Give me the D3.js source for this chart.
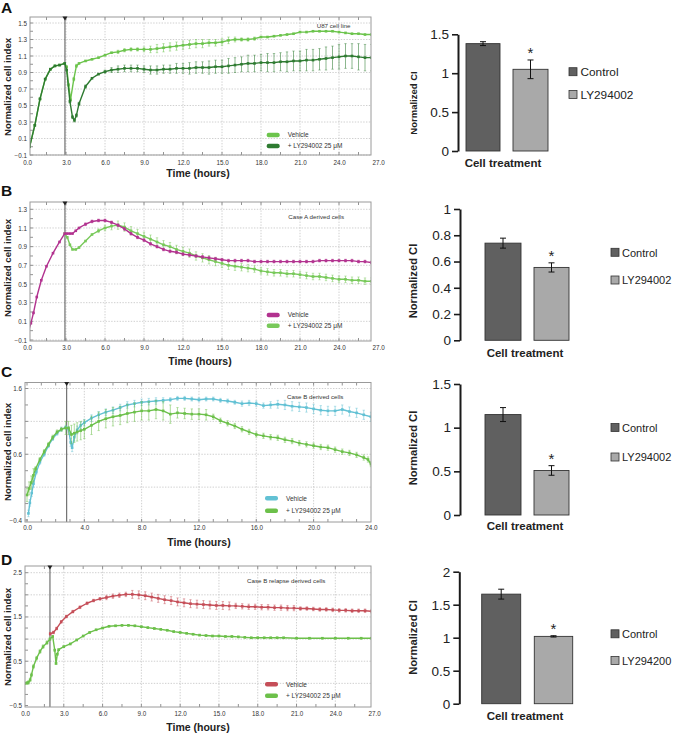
<!DOCTYPE html>
<html>
<head>
<meta charset="utf-8">
<script src="https://cdn.jsdelivr.net/npm/d3@7/dist/d3.min.js"></script>
<style>
body{margin:0;background:#fff;}
svg{display:block;}
text{font-family:"Liberation Sans",Arial,sans-serif;}
</style>
</head>
<body>
<svg id="fig" width="675" height="734"></svg>
<script>
// ================= DATA =================
const hourTicks27 = [0,3,6,9,12,15,18,21,24,27];
const hourTicks24 = [0,4,8,12,16,20,24];
const yTicksA = [-0.1,0.1,0.3,0.5,0.7,0.9,1.1,1.3,1.5];
const yTicksB = [-0.1,0.1,0.3,0.5,0.7,0.9,1.1,1.3];
const yTicksC = [-0.4,0.6,1.6];
const yTicksD = [-0.5,0.5,1.5,2.5];
const seriesLabels = ["Vehicle","+ LY294002 25 \u03bcM"];
const panelTitles = ["U87 cell line","Case A derived cells","Case B derived cells","Case B relapse derived cells"];
const panelLetters = ["A","B","C","D"];
const treatmentHours = [2.92, 2.92, 2.77, 1.93];

// [hours, normalized cell index, error]
const aVehicle = [[0.2,0.00,0.01],[0.6,0.26,0.01],[1.0,0.58,0.01],[1.4,0.82,0.01],[1.8,0.94,0.01],[2.15,0.98,0.01],[2.5,0.99,0.01],[2.9,1.01,0.01],[3.05,0.97,0.01],[3.2,0.75,0.02],[3.35,0.57,0.02],[3.6,0.82,0.02],[3.8,0.98,0.02],[4.0,1.01,0.01],[4.5,1.04,0.01],[5.0,1.06,0.01],[5.5,1.08,0.01],[6.0,1.11,0.01],[6.5,1.14,0.01],[7.0,1.15,0.02],[7.5,1.17,0.02],[8.0,1.18,0.02],[8.5,1.18,0.02],[9.0,1.18,0.03],[9.5,1.18,0.04],[10.0,1.19,0.05],[10.5,1.20,0.05],[11.0,1.21,0.05],[11.5,1.22,0.05],[12.0,1.23,0.05],[12.5,1.24,0.05],[13.0,1.25,0.05],[13.5,1.25,0.05],[14.0,1.26,0.04],[14.5,1.26,0.04],[15.0,1.27,0.04],[15.5,1.29,0.04],[16.0,1.30,0.03],[16.5,1.30,0.02],[17.0,1.30,0.02],[17.5,1.31,0.02],[18.0,1.33,0.01],[18.5,1.33,0.01],[19.0,1.34,0.01],[19.5,1.35,0.01],[20.0,1.36,0.01],[20.5,1.37,0.01],[21.0,1.39,0.01],[21.5,1.39,0.01],[22.0,1.40,0.01],[22.5,1.40,0.01],[23.0,1.40,0.01],[23.5,1.40,0.01],[24.0,1.39,0.01],[24.5,1.38,0.01],[25.0,1.37,0.01],[25.5,1.37,0.01],[26.0,1.36,0.01],[26.5,1.36,0.01]];
const aLY = [[0.2,0.00,0.01],[0.6,0.26,0.01],[1.0,0.58,0.01],[1.4,0.82,0.01],[1.8,0.94,0.01],[2.15,0.98,0.01],[2.5,0.99,0.01],[2.9,1.01,0.01],[3.05,0.93,0.01],[3.3,0.55,0.02],[3.5,0.36,0.02],[3.65,0.32,0.02],[3.8,0.38,0.02],[4.0,0.52,0.02],[4.5,0.73,0.02],[5.0,0.83,0.01],[5.5,0.88,0.01],[6.0,0.91,0.02],[6.5,0.93,0.03],[7.0,0.94,0.04],[7.5,0.95,0.04],[8.0,0.95,0.04],[8.5,0.95,0.04],[9.0,0.94,0.04],[9.5,0.93,0.05],[10.0,0.93,0.05],[10.5,0.94,0.05],[11.0,0.94,0.05],[11.5,0.95,0.06],[12.0,0.95,0.06],[12.5,0.95,0.07],[13.0,0.96,0.07],[13.5,0.96,0.07],[14.0,0.96,0.08],[14.5,0.97,0.08],[15.0,0.97,0.08],[15.5,0.98,0.09],[16.0,0.99,0.09],[16.5,1.00,0.09],[17.0,1.01,0.10],[17.5,1.01,0.10],[18.0,1.02,0.10],[18.5,1.02,0.11],[19.0,1.02,0.11],[19.5,1.03,0.11],[20.0,1.03,0.12],[20.5,1.04,0.12],[21.0,1.04,0.12],[21.5,1.05,0.13],[22.0,1.05,0.13],[22.5,1.06,0.13],[23.0,1.07,0.14],[23.5,1.08,0.14],[24.0,1.09,0.15],[24.5,1.10,0.15],[25.0,1.10,0.15],[25.5,1.09,0.16],[26.0,1.08,0.16],[26.5,1.08,0.16]];

const bVehicle = [[0.1,-0.01,0.01],[0.3,0.08,0.01],[0.5,0.19,0.01],[0.75,0.36,0.01],[1.1,0.54,0.01],[1.5,0.69,0.01],[2.0,0.83,0.01],[2.5,0.95,0.01],[2.9,1.04,0.01],[3.1,1.04,0.01],[3.3,1.04,0.01],[3.5,1.04,0.01],[3.75,1.07,0.01],[4.0,1.10,0.01],[4.5,1.14,0.015],[5.0,1.17,0.015],[5.5,1.18,0.015],[6.0,1.18,0.015],[6.5,1.16,0.015],[7.0,1.13,0.015],[7.5,1.09,0.015],[8.0,1.04,0.015],[8.5,1.00,0.015],[9.0,0.97,0.015],[9.5,0.93,0.015],[10.0,0.90,0.015],[10.5,0.87,0.015],[11.0,0.85,0.015],[11.5,0.84,0.015],[12.0,0.82,0.015],[12.5,0.81,0.015],[13.0,0.80,0.015],[13.5,0.79,0.015],[14.0,0.78,0.015],[14.5,0.77,0.015],[15.0,0.76,0.015],[15.5,0.75,0.015],[16.0,0.75,0.015],[16.5,0.75,0.015],[17.0,0.75,0.015],[17.5,0.74,0.015],[18.0,0.74,0.015],[18.5,0.74,0.015],[19.0,0.74,0.015],[19.5,0.74,0.015],[20.0,0.74,0.015],[20.5,0.74,0.015],[21.0,0.74,0.015],[21.5,0.74,0.015],[22.0,0.74,0.015],[22.5,0.75,0.015],[23.0,0.75,0.015],[23.5,0.75,0.015],[24.0,0.75,0.015],[24.5,0.75,0.015],[25.0,0.75,0.015],[25.5,0.74,0.015],[26.0,0.74,0.015],[26.5,0.73,0.015]];
const bLY = [[2.9,1.04,0.01],[3.1,1.00,0.01],[3.3,0.92,0.01],[3.5,0.87,0.01],[3.75,0.87,0.01],[4.0,0.89,0.01],[4.5,0.96,0.01],[5.0,1.03,0.01],[5.5,1.07,0.02],[6.0,1.10,0.03],[6.5,1.12,0.04],[7.0,1.13,0.045],[7.5,1.11,0.045],[8.0,1.07,0.045],[8.5,1.04,0.045],[9.0,1.01,0.045],[9.5,0.98,0.045],[10.0,0.95,0.045],[10.5,0.92,0.045],[11.0,0.90,0.045],[11.5,0.87,0.045],[12.0,0.85,0.045],[12.5,0.83,0.045],[13.0,0.80,0.045],[13.5,0.78,0.045],[14.0,0.76,0.045],[14.5,0.74,0.045],[15.0,0.72,0.045],[15.5,0.70,0.045],[16.0,0.69,0.045],[16.5,0.68,0.04],[17.0,0.67,0.04],[17.5,0.66,0.035],[18.0,0.64,0.035],[18.5,0.63,0.035],[19.0,0.62,0.035],[19.5,0.62,0.035],[20.0,0.61,0.035],[20.5,0.61,0.035],[21.0,0.60,0.035],[21.5,0.59,0.035],[22.0,0.58,0.035],[22.5,0.58,0.035],[23.0,0.57,0.035],[23.5,0.56,0.035],[24.0,0.55,0.035],[24.5,0.55,0.035],[25.0,0.54,0.035],[25.5,0.54,0.035],[26.0,0.53,0.035],[26.5,0.53,0.035]];

const cVehicle = [[0.1,-0.30,0.05],[0.2,-0.14,0.05],[0.33,0.01,0.05],[0.45,0.15,0.05],[0.65,0.33,0.03],[0.9,0.48,0.03],[1.2,0.60,0.03],[1.5,0.73,0.03],[1.8,0.84,0.03],[2.1,0.92,0.03],[2.4,0.98,0.03],[2.7,1.01,0.03],[2.9,0.98,0.04],[3.05,0.78,0.06],[3.15,0.70,0.06],[3.3,0.86,0.06],[3.5,0.97,0.06],[3.75,1.04,0.05],[4.0,1.08,0.05],[4.5,1.15,0.05],[5.0,1.20,0.05],[5.5,1.24,0.05],[6.0,1.27,0.05],[6.5,1.31,0.05],[7.0,1.35,0.05],[7.5,1.37,0.05],[8.0,1.39,0.05],[8.5,1.40,0.05],[9.0,1.41,0.05],[9.5,1.42,0.04],[10.0,1.43,0.03],[10.5,1.45,0.03],[11.0,1.45,0.03],[11.5,1.44,0.03],[12.0,1.43,0.03],[12.5,1.44,0.03],[13.0,1.44,0.03],[13.5,1.42,0.03],[14.0,1.41,0.03],[14.5,1.39,0.03],[15.0,1.37,0.04],[15.5,1.38,0.04],[16.0,1.37,0.04],[16.5,1.34,0.04],[17.0,1.35,0.05],[17.5,1.36,0.06],[18.0,1.35,0.07],[18.5,1.33,0.07],[19.0,1.32,0.07],[19.5,1.31,0.07],[20.0,1.29,0.07],[20.5,1.27,0.07],[21.0,1.26,0.07],[21.5,1.26,0.07],[22.0,1.28,0.07],[22.5,1.25,0.07],[23.0,1.23,0.07],[23.5,1.20,0.07],[24.0,1.17,0.07]];
const cLY = [[0.0,-0.02,0.10],[0.15,0.08,0.10],[0.3,0.17,0.10],[0.45,0.28,0.10],[0.6,0.38,0.03],[0.9,0.52,0.03],[1.2,0.64,0.03],[1.5,0.75,0.03],[1.8,0.86,0.03],[2.1,0.94,0.03],[2.4,0.98,0.03],[2.7,1.00,0.10],[2.9,1.00,0.10],[3.1,0.90,0.14],[3.3,0.92,0.14],[3.5,0.94,0.14],[3.75,0.96,0.14],[4.0,0.98,0.14],[4.5,1.04,0.14],[5.0,1.10,0.14],[5.5,1.14,0.14],[6.0,1.17,0.14],[6.5,1.19,0.14],[7.0,1.22,0.14],[7.5,1.24,0.14],[8.0,1.26,0.14],[8.5,1.26,0.14],[9.0,1.28,0.14],[9.5,1.26,0.14],[10.0,1.21,0.14],[10.5,1.23,0.08],[11.0,1.22,0.08],[11.5,1.21,0.08],[12.0,1.21,0.08],[12.5,1.20,0.08],[13.0,1.17,0.04],[13.5,1.11,0.04],[14.0,1.07,0.04],[14.5,1.03,0.04],[15.0,0.98,0.04],[15.5,0.94,0.04],[16.0,0.90,0.04],[16.5,0.88,0.04],[17.0,0.86,0.04],[17.5,0.85,0.04],[18.0,0.82,0.04],[18.5,0.80,0.04],[19.0,0.77,0.04],[19.5,0.75,0.04],[20.0,0.73,0.04],[20.5,0.71,0.04],[21.0,0.70,0.04],[21.5,0.67,0.04],[22.0,0.64,0.04],[22.5,0.62,0.04],[23.0,0.59,0.04],[23.5,0.55,0.04],[23.8,0.52,0.04],[24.0,0.45,0.04]];

const dVehicle = [[1.95,1.12,0.03],[2.2,1.15,0.03],[2.45,1.24,0.03],[2.8,1.39,0.03],[3.2,1.51,0.03],[3.7,1.62,0.03],[4.25,1.72,0.03],[4.8,1.81,0.03],[5.3,1.87,0.03],[5.8,1.91,0.03],[6.3,1.94,0.05],[6.8,1.97,0.05],[7.3,1.99,0.05],[7.8,2.01,0.05],[8.3,2.01,0.09],[8.8,2.00,0.09],[9.3,1.98,0.09],[9.8,1.95,0.09],[10.3,1.92,0.09],[10.8,1.89,0.09],[11.3,1.87,0.09],[11.8,1.84,0.09],[12.3,1.82,0.09],[12.8,1.80,0.09],[13.3,1.79,0.09],[13.8,1.78,0.09],[14.3,1.77,0.09],[14.8,1.76,0.09],[15.3,1.76,0.09],[15.8,1.75,0.09],[16.3,1.75,0.06],[16.8,1.74,0.06],[17.3,1.73,0.06],[17.8,1.73,0.06],[18.3,1.72,0.06],[18.8,1.72,0.06],[19.3,1.71,0.06],[19.8,1.71,0.06],[20.3,1.70,0.06],[20.8,1.70,0.06],[21.3,1.69,0.04],[21.8,1.69,0.04],[22.3,1.68,0.04],[22.8,1.67,0.04],[23.3,1.67,0.04],[23.8,1.66,0.04],[24.3,1.65,0.04],[24.8,1.65,0.04],[25.3,1.64,0.04],[25.8,1.64,0.04],[26.3,1.64,0.04],[26.8,1.63,0.04]];
const dLY = [[0.0,0.00,0.02],[0.15,0.01,0.03],[0.26,0.02,0.04],[0.4,0.08,0.04],[0.5,0.19,0.04],[0.65,0.38,0.04],[0.9,0.57,0.04],[1.16,0.72,0.04],[1.4,0.83,0.04],[1.7,0.92,0.04],[1.93,1.00,0.03],[2.14,1.06,0.02],[2.3,0.75,0.02],[2.4,0.45,0.02],[2.5,0.66,0.02],[2.6,0.76,0.02],[3.0,0.83,0.015],[3.5,0.89,0.015],[4.0,0.98,0.015],[4.5,1.07,0.015],[5.0,1.15,0.015],[5.5,1.21,0.015],[6.0,1.25,0.015],[6.5,1.29,0.015],[7.0,1.30,0.015],[7.5,1.31,0.015],[8.0,1.31,0.015],[8.5,1.30,0.015],[9.0,1.28,0.015],[9.5,1.26,0.015],[10.0,1.24,0.015],[10.5,1.22,0.015],[11.0,1.20,0.015],[11.5,1.17,0.015],[12.0,1.15,0.015],[12.5,1.13,0.015],[13.0,1.11,0.015],[13.5,1.09,0.015],[14.0,1.08,0.015],[14.5,1.07,0.015],[15.0,1.07,0.015],[15.5,1.06,0.015],[16.0,1.06,0.015],[16.5,1.05,0.015],[17.0,1.04,0.015],[17.5,1.03,0.015],[18.0,1.03,0.015],[18.5,1.03,0.015],[19.0,1.03,0.015],[19.5,1.03,0.015],[20.0,1.03,0.015],[21.0,1.02,0.015],[22.0,1.02,0.015],[23.0,1.02,0.015],[24.0,1.02,0.015],[25.0,1.02,0.015],[26.0,1.02,0.015],[26.8,1.02,0.015]];

// Bar charts (Normalized CI)
const barLabelsABC = ["Control","LY294002"];
const barLabelsD = ["Control","LY294200"];
const barA = [1.38, 1.05], barErrA = [0.025, 0.12];
const barB = [0.74, 0.555], barErrB = [0.038, 0.035];
const barC = [1.15, 0.51], barErrC = [0.08, 0.055];
const barD = [1.66, 1.02], barErrD = [0.075, 0.01];
const barTicksA = [0,0.5,1,1.5];
const barTicksB = [0,0.2,0.4,0.6,0.8,1];
const barTicksC = [0,0.5,1,1.5];
const barTicksD = [0,0.5,1,1.5,2];

// ================= DRAWING =================
const svg = d3.select("#fig");
const FONT = '"Liberation Sans",Arial,sans-serif';
const barColors = ["#606060","#a9a9a9"];

function linePanel(p) {
  const g = svg.append("g");
  const x = d3.scaleLinear().domain([0, p.tMax]).range([p.xZero, p.xZero + p.tMax * p.pxHour]);
  const y = d3.scaleLinear().domain(p.yDomain).range(p.yRange);
  const [fx0, fy0, fx1, fy1] = p.frame;
  const clipId = "clip" + p.idx;
  svg.append("defs").append("clipPath").attr("id", clipId)
    .append("rect").attr("x", fx0).attr("y", fy0).attr("width", fx1 - fx0).attr("height", fy1 - fy0);

  // gridlines
  g.selectAll("line.gy").data(p.gridY).join("line").attr("class","gy")
    .attr("x1", fx0).attr("x2", fx1).attr("y1", d => y(d)).attr("y2", d => y(d))
    .attr("stroke", "#c4c4c4").attr("stroke-width", 0.8).attr("stroke-dasharray", "1.4,1.4");
  g.selectAll("line.gx").data(p.gridX).join("line").attr("class","gx")
    .attr("y1", fy0).attr("y2", fy1).attr("x1", d => x(d)).attr("x2", d => x(d))
    .attr("stroke", "#c4c4c4").attr("stroke-width", 0.8).attr("stroke-dasharray", "1.4,1.4");

  // minor ticks
  const mx = p.minorX.filter(t => x(t) > fx0 + 1 && x(t) < fx1 - 1);
  g.selectAll("line.mt").data(mx).join("line").attr("class","mt")
    .attr("x1", d => x(d)).attr("x2", d => x(d)).attr("y1", fy0).attr("y2", fy0 + 3)
    .attr("stroke", "#777").attr("stroke-width", 0.8);
  g.selectAll("line.mb").data(mx).join("line").attr("class","mb")
    .attr("x1", d => x(d)).attr("x2", d => x(d)).attr("y1", fy1).attr("y2", fy1 - 3)
    .attr("stroke", "#777").attr("stroke-width", 0.8);
  g.selectAll("line.ml").data(p.minorY).join("line").attr("class","ml")
    .attr("x1", fx0).attr("x2", fx0 + 3).attr("y1", d => y(d)).attr("y2", d => y(d))
    .attr("stroke", "#777").attr("stroke-width", 0.8);

  // treatment line
  const tx = x(p.treat);
  g.append("line").attr("x1", tx).attr("x2", tx).attr("y1", fy0).attr("y2", fy1)
    .attr("stroke", "#555").attr("stroke-width", 1);

  // series
  p.series.forEach(s => {
    const sg = g.append("g").attr("clip-path", `url(#${clipId})`);
    const ed = s.data.filter(d => d[2] > 0.012);
    sg.selectAll("line.err").data(ed).join("line").attr("class","err")
      .attr("x1", d => x(d[0])).attr("x2", d => x(d[0]))
      .attr("y1", d => y(d[1] - d[2])).attr("y2", d => y(d[1] + d[2]))
      .attr("stroke", s.color).attr("stroke-opacity", 0.55).attr("stroke-width", 1);
    sg.selectAll("line.capT").data(ed).join("line").attr("class","capT")
      .attr("x1", d => x(d[0]) - 1.2).attr("x2", d => x(d[0]) + 1.2)
      .attr("y1", d => y(d[1] + d[2])).attr("y2", d => y(d[1] + d[2]))
      .attr("stroke", s.color).attr("stroke-opacity", 0.55).attr("stroke-width", 0.8);
    sg.selectAll("line.capB").data(ed).join("line").attr("class","capB")
      .attr("x1", d => x(d[0]) - 1.2).attr("x2", d => x(d[0]) + 1.2)
      .attr("y1", d => y(d[1] - d[2])).attr("y2", d => y(d[1] - d[2]))
      .attr("stroke", s.color).attr("stroke-opacity", 0.55).attr("stroke-width", 0.8);
    sg.append("path").datum(s.data)
      .attr("d", d3.line().x(d => x(d[0])).y(d => y(d[1])))
      .attr("fill", "none").attr("stroke", s.color).attr("stroke-width", 1.4).attr("stroke-linejoin","round");
    sg.selectAll("rect.mk").data(s.data).join("rect").attr("class","mk")
      .attr("x", d => x(d[0]) - 1.3).attr("y", d => y(d[1]) - 1.3)
      .attr("width", 2.6).attr("height", 2.6).attr("fill", s.color);
  });

  // frame
  g.append("rect").attr("x", fx0).attr("y", fy0).attr("width", fx1 - fx0).attr("height", fy1 - fy0)
    .attr("fill", "none").attr("stroke", "#9a9a9a").attr("stroke-width", 1);

  // treatment marker
  g.append("path").attr("d", `M${tx-2.5},${fy0-0.5}L${tx+2.5},${fy0-0.5}L${tx},${fy0+3.5}Z`).attr("fill", "#222");

  // axes
  const ya = g.append("g").attr("transform", `translate(${fx0},0)`)
    .call(d3.axisLeft(y).tickValues(p.yTicks).tickSize(0).tickPadding(3).tickFormat(d3.format(".1f")));
  ya.select(".domain").remove();
  ya.selectAll("text").attr("font-size", 6.3).attr("fill", "#333").attr("font-family", FONT);

  const xa = g.append("g").attr("transform", `translate(0,${fy1})`)
    .call(d3.axisBottom(x).tickValues(p.xTicks).tickSize(0).tickPadding(p.xLabBase - fy1 - 4.5).tickFormat(d3.format(".1f")));
  xa.select(".domain").remove();
  xa.selectAll("text").attr("font-size", 6.3).attr("fill", "#333").attr("font-family", FONT);

  // title inside
  g.append("text").attr("x", p.titleX).attr("y", p.titleY).attr("font-size", 6.2).attr("fill", "#333")
    .text(panelTitles[p.idx]);

  // legend (Vehicle first)
  const legendOrder = p.series.slice().sort((a, b) => a.label - b.label);
  legendOrder.forEach((s, i) => {
    const ly = p.legY[i];
    g.append("rect").attr("x", p.legX).attr("y", ly - 2.2).attr("width", 13).attr("height", 4.4).attr("rx", 2)
      .attr("fill", s.color);
    g.append("text").attr("x", p.legX + 21).attr("y", ly + 2.3).attr("font-size", 6.5).attr("fill", "#333")
      .text(seriesLabels[s.label]);
  });

  // axis titles
  g.append("text").attr("transform", `translate(${p.yTitleX},${p.yTitleY}) rotate(-90)`)
    .attr("text-anchor", "middle").attr("dominant-baseline", "central")
    .attr("font-size", 9.6).attr("font-weight", "bold").attr("fill", "#222").text("Normalized cell index");
  g.append("text").attr("x", p.xTitleX).attr("y", p.xTitleY).attr("text-anchor", "middle")
    .attr("font-size", 10.5).attr("font-weight", "bold").attr("fill", "#222").text("Time (hours)");

  // panel letter
  g.append("text").attr("x", 1).attr("y", p.letterY).attr("font-size", 15.5).attr("font-weight", "bold")
    .attr("fill", "#111").text(panelLetters[p.idx]);
}

function barPanel(p) {
  const g = svg.append("g");
  const y = d3.scaleLinear().domain([0, p.yMax]).range(p.yRange);
  const cx = (i) => p.barX[i] + p.barW[i] / 2;

  g.selectAll("rect.bar").data(p.values).join("rect").attr("class","bar")
    .attr("x", (d, i) => p.barX[i]).attr("width", (d, i) => p.barW[i])
    .attr("y", d => y(d)).attr("height", d => y(0) - y(d))
    .attr("fill", (d, i) => barColors[i]).attr("stroke", "#333").attr("stroke-width", 0.9);

  p.values.forEach((v, i) => {
    const e = p.errors[i];
    g.append("line").attr("x1", cx(i)).attr("x2", cx(i)).attr("y1", y(v - e)).attr("y2", y(v + e))
      .attr("stroke", "#111").attr("stroke-width", 1);
    [v - e, v + e].forEach(w => g.append("line").attr("x1", cx(i) - 3).attr("x2", cx(i) + 3)
      .attr("y1", y(w)).attr("y2", y(w)).attr("stroke", "#111").attr("stroke-width", 1));
  });
  // significance star
  g.append("text").attr("x", cx(1)).attr("y", y(p.values[1] + p.errors[1]) - 2)
    .attr("text-anchor", "middle").attr("font-size", 15).attr("fill", "#222").text("*");

  const ax = g.append("g").attr("transform", `translate(${p.axisX},0)`)
    .call(d3.axisLeft(y).tickValues(p.ticks).tickSize(6).tickSizeOuter(0).tickPadding(3).tickFormat(d3.format("~g")));
  ax.select(".domain").attr("stroke", "#1a1a1a").attr("stroke-width", 2);
  ax.selectAll(".tick line").attr("stroke", "#1a1a1a").attr("stroke-width", 1.6);
  ax.selectAll("text").attr("font-size", 13.5).attr("fill", "#222").attr("font-family", FONT);

  g.append("text").attr("transform", `translate(${p.yTitleX},${p.yTitleY}) rotate(-90)`)
    .attr("text-anchor", "middle").attr("dominant-baseline", "central")
    .attr("font-size", p.yTitleSize).attr("font-weight", "bold").attr("fill", "#222").text("Normalized CI");
  g.append("text").attr("x", p.xTitleX).attr("y", p.xTitleY).attr("text-anchor", "middle")
    .attr("font-size", 11.5).attr("font-weight", "bold").attr("fill", "#222").text("Cell treatment");

  p.labels.forEach((lab, i) => {
    const ly = p.legY[i];
    g.append("rect").attr("x", p.legX).attr("y", ly - 4).attr("width", 8).attr("height", 8)
      .attr("fill", barColors[i]).attr("stroke", "#333").attr("stroke-width", 0.8);
    g.append("text").attr("x", p.legTX).attr("y", ly + 4.2).attr("font-size", p.legSize).attr("fill", "#222").text(lab);
  });
}

const minor15 = d3.range(0, 28, 1.5);
const minor1 = d3.range(0, 25, 1);

linePanel({idx:0, frame:[30,17,371,155], xZero:27, pxHour:13, tMax:27,
  yDomain:[-0.1,1.5], yRange:[155,23], yTicks:yTicksA, gridY:yTicksA, gridX:[3,6,9,12,15,18,21,24],
  minorX:minor15, minorY:d3.range(-0.1,1.55,0.1), xTicks:hourTicks27, xLabBase:165,
  treat:treatmentHours[0], titleX:316.7, titleY:27.5, legX:266.7, legY:[135,146],
  yTitleX:7, yTitleY:87, xTitleX:198, xTitleY:176.5, letterY:12.8,
  series:[{data:aVehicle,color:"#6cc44c",label:0},{data:aLY,color:"#2e7b31",label:1}]});

linePanel({idx:1, frame:[30,202,371,341], xZero:27, pxHour:13, tMax:27,
  yDomain:[-0.1,1.3], yRange:[340,209.3], yTicks:yTicksB, gridY:yTicksB, gridX:[3,6,9,12,15,18,21,24],
  minorX:minor15, minorY:d3.range(-0.1,1.35,0.1), xTicks:hourTicks27, xLabBase:350,
  treat:treatmentHours[1], titleX:288.3, titleY:219, legX:266.7, legY:[315,325.7],
  yTitleX:7, yTitleY:268, xTitleX:200, xTitleY:365, letterY:195.5,
  series:[{data:bLY,color:"#78c95a",label:1},{data:bVehicle,color:"#b2328f",label:0}]});

linePanel({idx:2, frame:[25,382.5,371,522], xZero:27, pxHour:14.33, tMax:24,
  yDomain:[-0.4,1.6], yRange:[520,388.5], yTicks:yTicksC, gridY:[0.1,0.6,1.1,1.6], gridX:[4,8,12,16,20],
  minorX:minor1, minorY:d3.range(-0.4,1.65,0.25), xTicks:hourTicks24, xLabBase:530,
  treat:treatmentHours[2], titleX:287, titleY:398.5, legX:265, legY:[498.3,510.7],
  yTitleX:7, yTitleY:452, xTitleX:199, xTitleY:546, letterY:377,
  series:[{data:cVehicle,color:"#62c1d4",label:0},{data:cLY,color:"#6cc04a",label:1}]});

linePanel({idx:3, frame:[25,566,371,707], xZero:25, pxHour:12.93, tMax:27,
  yDomain:[-0.5,2.5], yRange:[705.5,572.7], yTicks:yTicksD, gridY:[0,0.5,1,1.5,2,2.5], gridX:[3,6,9,12,15,18,21,24],
  minorX:minor15, minorY:d3.range(-0.5,2.55,0.25), xTicks:hourTicks27, xLabBase:716,
  treat:treatmentHours[3], titleX:247, titleY:583, legX:265, legY:[684.3,695.7],
  yTitleX:7, yTitleY:637, xTitleX:198, xTitleY:731, letterY:564.5,
  series:[{data:dLY,color:"#6cc04a",label:1},{data:dVehicle,color:"#c54e58",label:0}]});

barPanel({values:barA, errors:barErrA, labels:barLabelsABC, yMax:1.5, yRange:[151,34.3], ticks:barTicksA,
  axisX:458, barX:[466,513], barW:[34,35], legX:569, legTX:580.5, legY:[71.7,94.5], legSize:11.8,
  yTitleX:413, yTitleY:103, yTitleSize:9.5, xTitleX:503, xTitleY:167});
barPanel({values:barB, errors:barErrB, labels:barLabelsABC, yMax:1, yRange:[340.3,209], ticks:barTicksB,
  axisX:460, barX:[485,534], barW:[36,35], legX:611, legTX:622, legY:[252.3,280], legSize:11,
  yTitleX:413, yTitleY:281, yTitleSize:11.2, xTitleX:525, xTitleY:356.5});
barPanel({values:barC, errors:barErrC, labels:barLabelsABC, yMax:1.5, yRange:[515,384], ticks:barTicksC,
  axisX:460, barX:[485,534], barW:[36,35], legX:611, legTX:622, legY:[427.5,457], legSize:11,
  yTitleX:413, yTitleY:448, yTitleSize:11.2, xTitleX:525, xTitleY:530});
barPanel({values:barD, errors:barErrD, labels:barLabelsD, yMax:2, yRange:[703.7,571.7], ticks:barTicksD,
  axisX:459.3, barX:[481.7,534.3], barW:[39,38.4], legX:611, legTX:622, legY:[633.8,660.5], legSize:11,
  yTitleX:413, yTitleY:637.5, yTitleSize:11.2, xTitleX:525, xTitleY:720});
</script>
</body>
</html>
